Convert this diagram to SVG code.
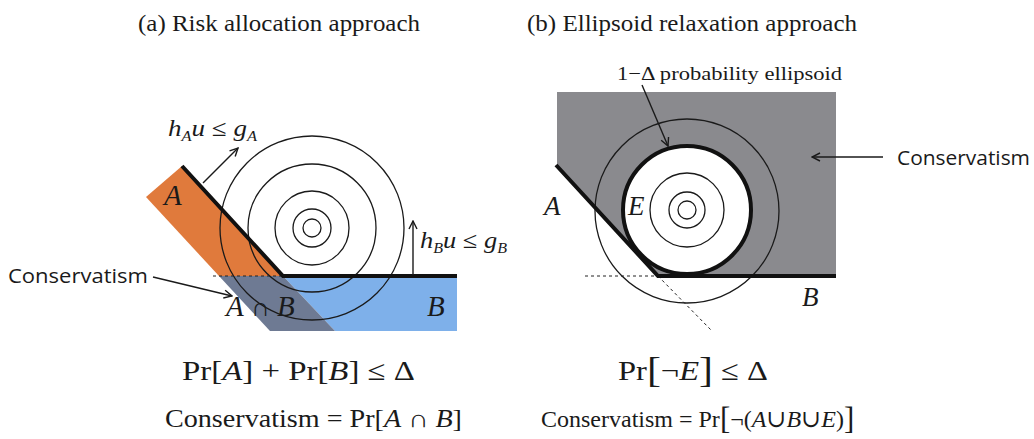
<svg xmlns="http://www.w3.org/2000/svg" width="1034" height="439" viewBox="0 0 1034 439">
<style>
.serif{font-family:"Liberation Serif","DejaVu Serif","Times New Roman",serif;fill:#1a1a1a}
.it{font-style:italic}
.sans{font-family:"Open Sans","Noto Sans","Liberation Sans",sans-serif;fill:#1a1a1a}
.thin{fill:none;stroke:#1a1a1a;stroke-width:1.3}
.thick{fill:none;stroke:#111;stroke-width:4}
.dash{fill:none;stroke:#222;stroke-width:1;stroke-dasharray:3 3}
.arrow{fill:none;stroke:#1a1a1a;stroke-width:1.4;marker-end:url(#head)}
</style>
<defs>
<marker id="head" viewBox="0 0 10 10" refX="9" refY="5" markerWidth="10" markerHeight="10" markerUnits="userSpaceOnUse" orient="auto">
<path d="M1,1 L9,5 L1,9" fill="none" stroke="#1a1a1a" stroke-width="1.4"/>
</marker>
</defs>
<rect width="1034" height="439" fill="#fff"/>

<g id="title-a"><text class="serif" x="138" y="31" font-size="23" textLength="282" lengthAdjust="spacingAndGlyphs">(a) Risk allocation approach</text></g>
<g id="title-b"><text class="serif" x="527" y="31" font-size="23" textLength="330" lengthAdjust="spacingAndGlyphs">(b) Ellipsoid relaxation approach</text></g>

<g id="panel-a">
<polygon id="region-A" points="146,197 182,166 283,276 219,276" fill="#e07a3c"/>
<polygon id="region-B" points="283,276 457,276 457,331 335,331" fill="#7eb0ea"/>
<polygon id="region-AB" points="219,276 283,276 335,331 270,331" fill="#6e7a93"/>
<g id="contours-a">
<circle class="thin" cx="312" cy="228" r="9"/>
<circle class="thin" cx="312" cy="228" r="19"/>
<circle class="thin" cx="312" cy="228" r="37"/>
<circle class="thin" cx="312" cy="228" r="64"/>
<circle class="thin" cx="312" cy="228" r="92"/>
</g>
<line class="dash" x1="213" y1="276" x2="283" y2="276"/>
<polyline class="thick" points="182,166 283,276 457,276"/>
<text class="serif it" x="164" y="205" font-size="29">A</text>
<text class="serif it" x="427" y="316" font-size="29">B</text>
<text class="serif" x="226" y="316" font-size="29"><tspan class="it">A</tspan> <tspan font-size="26">∩</tspan> <tspan class="it">B</tspan></text>
<text class="serif" x="168" y="136" font-size="23" textLength="89" lengthAdjust="spacingAndGlyphs"><tspan class="it">h</tspan><tspan class="it" font-size="14" dy="5">A</tspan><tspan class="it" dy="-5">u</tspan> ≤ <tspan class="it">g</tspan><tspan class="it" font-size="14" dy="5">A</tspan></text>
<text class="serif" x="420" y="248" font-size="23" textLength="87" lengthAdjust="spacingAndGlyphs"><tspan class="it">h</tspan><tspan class="it" font-size="14" dy="5">B</tspan><tspan class="it" dy="-5">u</tspan> ≤ <tspan class="it">g</tspan><tspan class="it" font-size="14" dy="5">B</tspan></text>
<text class="sans" x="8" y="283" font-size="20" textLength="140" lengthAdjust="spacingAndGlyphs">Conservatism</text>
</g>

<g id="panel-b">
<polygon id="region-cons" points="557,92 836,92 836,276 658,276 557,165" fill="#8a8a8e"/>
<g id="contours-b">
<circle class="thin" cx="687" cy="211" r="92"/>
<circle cx="687" cy="210" r="64" fill="#fff" stroke="#111" stroke-width="4"/>
<circle class="thin" cx="687" cy="210" r="37"/>
<circle class="thin" cx="687" cy="210" r="18"/>
<circle class="thin" cx="687" cy="210" r="9"/>
</g>
<line class="dash" x1="585" y1="276" x2="658" y2="276"/>
<line class="dash" x1="658" y1="276" x2="712" y2="331"/>
<polyline class="thick" points="556,165 658,276 836,276"/>
<text class="serif it" x="544" y="215" font-size="27">A</text>
<text class="serif it" x="628" y="215" font-size="27">E</text>
<text class="serif it" x="802" y="306" font-size="27">B</text>
<text class="serif" x="617" y="80" font-size="19" textLength="225" lengthAdjust="spacingAndGlyphs">1−Δ  probability ellipsoid</text>
<text class="sans" x="897" y="165" font-size="20" textLength="133" lengthAdjust="spacingAndGlyphs">Conservatism</text>
</g>

<g id="connectors">
<line class="arrow" x1="203" y1="183" x2="238" y2="148"/>
<line class="arrow" x1="413" y1="275" x2="413" y2="221"/>
<line class="arrow" x1="153" y1="277" x2="232" y2="296"/>
<line class="arrow" x1="642" y1="85" x2="668" y2="146"/>
<line class="arrow" x1="883" y1="157" x2="812" y2="157"/>
</g>

<g id="formulas">
<text class="serif" x="182" y="380" font-size="28" textLength="233" lengthAdjust="spacingAndGlyphs">Pr[<tspan class="it">A</tspan>] + Pr[<tspan class="it">B</tspan>] ≤ Δ</text>
<text class="serif" x="165" y="427" font-size="25" textLength="297" lengthAdjust="spacingAndGlyphs">Conservatism = Pr[<tspan class="it">A</tspan> ∩ <tspan class="it">B</tspan>]</text>
<text class="serif" x="618" y="380" font-size="28" textLength="150" lengthAdjust="spacingAndGlyphs">Pr<tspan font-size="36" dy="2">[</tspan><tspan dy="-2">¬</tspan><tspan class="it">E</tspan><tspan font-size="36" dy="2">]</tspan><tspan dy="-2"> ≤ Δ</tspan></text>
<text class="serif" x="541" y="427" font-size="24">Conservatism = Pr<tspan font-size="31" dy="2">[</tspan><tspan dy="-2">¬(</tspan><tspan class="it">A</tspan>∪<tspan class="it">B</tspan>∪<tspan class="it">E</tspan>)<tspan font-size="31" dy="2">]</tspan></text>
</g>
</svg>
